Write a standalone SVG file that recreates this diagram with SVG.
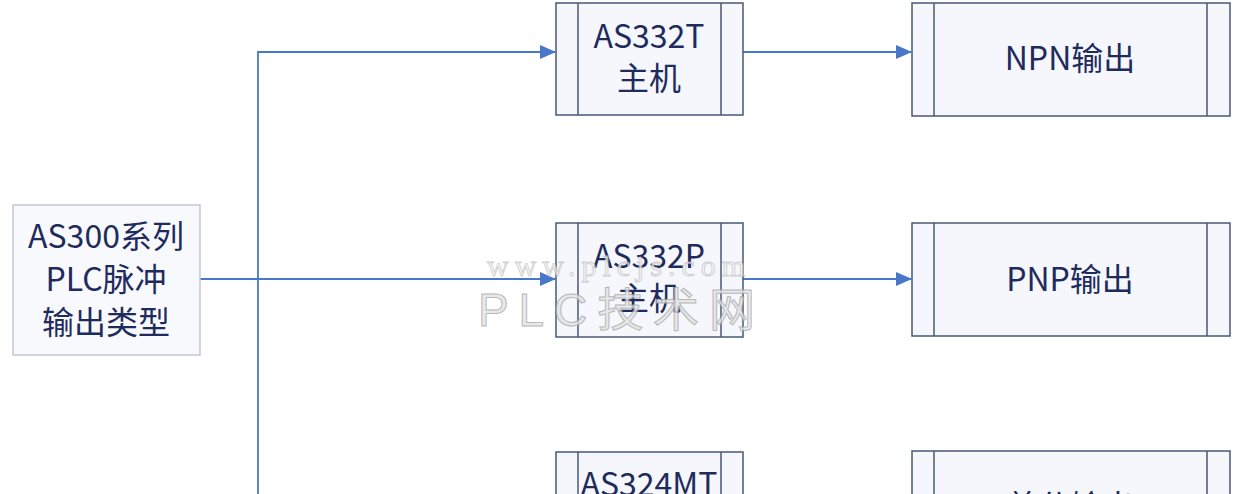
<svg xmlns="http://www.w3.org/2000/svg" width="1236" height="494" viewBox="0 0 1236 494">
<style>
.bg{fill:#ffffff}
.box{fill:#f5f7fc;stroke:#465878;stroke-width:1.5}
.inner{stroke:#465878;stroke-width:1.5}
.src{fill:#f8f9fc;stroke:#c4c8d0;stroke-width:1.5}
.t{font-family:"Noto Sans CJK SC","Liberation Sans",sans-serif;font-size:32px;fill:#1e2b5c;text-anchor:middle}
.conn{stroke:#4a78c8;stroke-width:1.8;fill:none}
.wm1{font-family:"Liberation Serif",serif;font-size:30px;fill:#f2f2f2;stroke:#c4c4c4;stroke-width:0.8}
.wm2{font-family:"Liberation Sans","Noto Sans CJK SC",sans-serif;font-size:46px;fill:#e4e4e4;stroke:#a8a8a8;stroke-width:1}
</style>
<defs>
<marker id="arr" markerWidth="16" markerHeight="14" refX="15" refY="7" orient="auto" markerUnits="userSpaceOnUse">
<path d="M0,0 L16,7 L0,14 Z" fill="#4a78c8"/>
</marker>
</defs>
<rect class="bg" x="0" y="0" width="1236" height="494"/>
<g id="connectors">
<path class="conn" d="M200,279 H258"/>
<path class="conn" d="M258,494 V52 H555" marker-end="url(#arr)"/>
<path class="conn" d="M258,279 H555" marker-end="url(#arr)"/>
<path class="conn" d="M743,52 H911" marker-end="url(#arr)"/>
<path class="conn" d="M743,279 H911" marker-end="url(#arr)"/>
</g>
<g id="src">
<rect class="src" x="13" y="205" width="187" height="150"/>
<text class="t" x="106" y="248">AS300系列</text>
<text class="t" x="106" y="291">PLC脉冲</text>
<text class="t" x="106" y="334">输出类型</text>
</g>
<g id="as332t">
<rect class="box" x="556" y="3" width="187" height="112"/>
<line class="inner" x1="578" y1="3" x2="578" y2="115"/>
<line class="inner" x1="721" y1="3" x2="721" y2="115"/>
<text class="t" x="649" y="48">AS332T</text>
<text class="t" x="649" y="90">主机</text>
</g>
<g id="as332p">
<rect class="box" x="556" y="223" width="187" height="114"/>
<line class="inner" x1="578" y1="223" x2="578" y2="337"/>
<line class="inner" x1="721" y1="223" x2="721" y2="337"/>
<text class="t" x="649" y="268">AS332P</text>
<text class="t" x="649" y="310">主机</text>
</g>
<g id="as324mt">
<rect class="box" x="556" y="452" width="187" height="112"/>
<line class="inner" x1="578" y1="452" x2="578" y2="564"/>
<line class="inner" x1="721" y1="452" x2="721" y2="564"/>
<text class="t" x="649" y="496">AS324MT</text>
</g>
<g id="npn">
<rect class="box" x="912" y="3" width="318" height="113"/>
<line class="inner" x1="934" y1="3" x2="934" y2="116"/>
<line class="inner" x1="1207" y1="3" x2="1207" y2="116"/>
<text class="t" x="1070" y="70">NPN输出</text>
</g>
<g id="pnp">
<rect class="box" x="912" y="223" width="318" height="113"/>
<line class="inner" x1="934" y1="223" x2="934" y2="336"/>
<line class="inner" x1="1207" y1="223" x2="1207" y2="336"/>
<text class="t" x="1070" y="291">PNP输出</text>
</g>
<g id="diff">
<rect class="box" x="912" y="451" width="318" height="113"/>
<line class="inner" x1="934" y1="451" x2="934" y2="564"/>
<line class="inner" x1="1207" y1="451" x2="1207" y2="564"/>
<text class="t" x="1070" y="518">差分输出</text>
</g>
<g id="watermark" opacity="0.8">
<text class="wm1" x="487" y="276" textLength="258" lengthAdjust="spacing">www.plcjs.com</text>
<text class="wm2" x="478" y="326" textLength="277" lengthAdjust="spacing">PLC技术网</text>
</g>
</svg>
